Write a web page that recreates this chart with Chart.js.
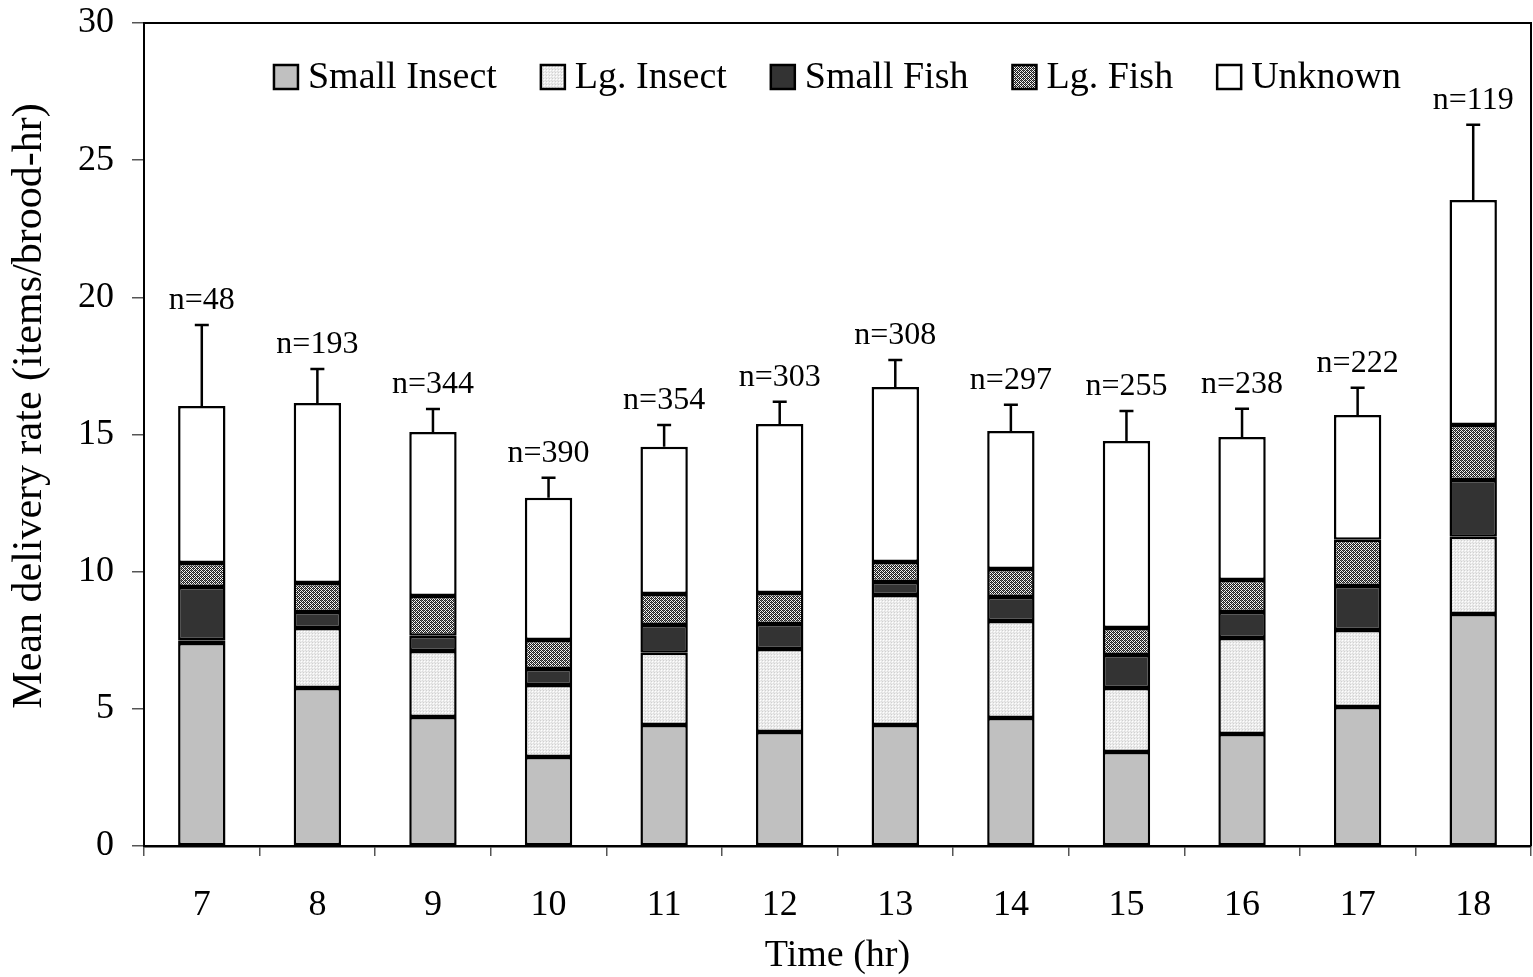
<!DOCTYPE html>
<html>
<head>
<meta charset="utf-8">
<script src="https://cdn.jsdelivr.net/npm/chart.js@4.4.1/dist/chart.umd.min.js"></script>
<style>
  html, body { margin: 0; padding: 0; background: #ffffff; }
  #wrap { width: 1533px; height: 977px; }
</style>
</head>
<body>
<div id="wrap"><canvas id="chart" width="1533" height="977"></canvas></div>
<script>
// Hour of day for each bar
const hours = ['7', '8', '9', '10', '11', '12', '13', '14', '15', '16', '17', '18'];

// Mean delivery rate per prey class (items/brood-hr), stacked bottom to top
const smallInsect = [7.40, 5.76, 4.70, 3.24, 4.41, 4.16, 4.41, 4.67, 3.43, 4.08, 5.07, 8.46];
const lgInsect    = [0.10, 2.19, 2.41, 2.63, 2.63, 3.02, 4.74, 3.53, 2.33, 3.50, 2.80, 2.81];
const smallFish   = [1.94, 0.58, 0.55, 0.58, 1.02, 0.91, 0.47, 0.88, 1.20, 0.95, 1.61, 2.07];
const lgFish      = [0.88, 1.06, 1.45, 1.06, 1.13, 1.13, 0.73, 1.02, 0.99, 1.17, 1.68, 2.01];
const unknown     = [5.72, 6.56, 5.98, 5.18, 5.36, 6.16, 6.38, 5.03, 6.81, 5.21, 4.55, 8.20];

// Upper error on the total rate, and number of deliveries observed
const totalErr = [2.95, 1.24, 0.84, 0.73, 0.80, 0.81, 0.99, 0.95, 1.10, 1.03, 0.99, 2.74];
const nObs     = [48, 193, 344, 390, 354, 303, 308, 297, 255, 238, 222, 119];

const yTicks = [0, 5, 10, 15, 20, 25, 30];

const FONT = '"Liberation Serif", "Times New Roman", serif';

// Fill patterns for the two "large" classes
function makePattern(size, painter) {
  const c = document.createElement('canvas');
  c.width = size; c.height = size;
  const g = c.getContext('2d');
  painter(g, size);
  return document.getElementById('chart').getContext('2d').createPattern(c, 'repeat');
}
const dottedLight = makePattern(3, (g, s) => {
  g.fillStyle = '#ececec'; g.fillRect(0, 0, s, s);
  g.fillStyle = '#d0d0d0'; g.fillRect(0, 0, 1, 1);
  g.fillStyle = '#ffffff'; g.fillRect(1, 1, 1, 1);
  g.fillStyle = '#dcdcdc'; g.fillRect(2, 2, 1, 1);
});
const hatchDark = makePattern(4, (g, s) => {
  g.fillStyle = '#f4f4f4'; g.fillRect(0, 0, s, s);
  g.fillStyle = '#1e1e1e';
  for (let x = 0; x < s; x++) {
    for (let y = 0; y < s; y++) {
      if ((x + y) % 2 === 0) g.fillRect(x, y, 1, 1);
    }
  }
  g.fillStyle = '#6a6a6a';
  g.fillRect(1, 0, 1, 1);
  g.fillRect(3, 2, 1, 1);
});

function seg(label, data, fill) {
  return {
    label, data,
    backgroundColor: fill,
    borderColor: '#000000',
    borderWidth: 2.5,
    borderSkipped: false,
    categoryPercentage: 1.0,
    barPercentage: 0.41
  };
}

// Frame around the plotting area (top and right edges)
const framePlugin = {
  id: 'frame',
  afterDraw(chart) {
    const a = chart.chartArea, ctx = chart.ctx;
    ctx.save();
    ctx.strokeStyle = '#000'; ctx.lineWidth = 2;
    ctx.beginPath();
    ctx.moveTo(a.left, a.top); ctx.lineTo(a.right, a.top); ctx.lineTo(a.right, a.bottom);
    ctx.stroke();
    ctx.restore();
  }
};

// Upper error bars on each stack plus the sample-size label above them
const errorPlugin = {
  id: 'errorBars',
  afterDatasetsDraw(chart) {
    const ctx = chart.ctx, xs = chart.scales.x, ys = chart.scales.y;
    ctx.save();
    ctx.strokeStyle = '#000'; ctx.lineWidth = 2.5;
    ctx.fillStyle = '#000';
    ctx.font = '32px ' + FONT;
    ctx.textAlign = 'center'; ctx.textBaseline = 'middle';
    hours.forEach((h, i) => {
      let total = 0;
      chart.data.datasets.forEach(ds => { total += ds.data[i]; });
      const x = xs.getPixelForValue(i);
      const y0 = ys.getPixelForValue(total);
      const y1 = ys.getPixelForValue(total + totalErr[i]);
      ctx.beginPath();
      ctx.moveTo(x, y0); ctx.lineTo(x, y1);
      ctx.moveTo(x - 7, y1); ctx.lineTo(x + 7, y1);
      ctx.stroke();
      ctx.fillText('n=' + nObs[i], x, y1 - 24);
    });
    ctx.restore();
  }
};

// Legend drawn inside the plot along the top
const legendPlugin = {
  id: 'innerLegend',
  afterDraw(chart) {
    const ctx = chart.ctx, a = chart.chartArea;
    const box = 24, gapText = 10, gapItem = 44, yc = 77;
    ctx.save();
    ctx.font = '38px ' + FONT;
    ctx.textBaseline = 'middle'; ctx.textAlign = 'left';
    const items = chart.data.datasets.map(ds => ({ label: ds.label, fill: ds.backgroundColor, w: ctx.measureText(ds.label).width }));
    let total = 0;
    items.forEach((it, k) => { total += box + gapText + it.w + (k < items.length - 1 ? gapItem : 0); });
    let x = (a.left + a.right) / 2 - total / 2;
    items.forEach(it => {
      ctx.fillStyle = it.fill;
      ctx.fillRect(x, yc - box / 2, box, box);
      ctx.strokeStyle = '#000'; ctx.lineWidth = 2.5;
      ctx.strokeRect(x, yc - box / 2, box, box);
      ctx.fillStyle = '#000';
      ctx.fillText(it.label, x + box + gapText, yc + 1);
      x += box + gapText + it.w + gapItem;
    });
    ctx.restore();
  }
};

// Axis titles
const titlePlugin = {
  id: 'axisTitles',
  afterDraw(chart) {
    const ctx = chart.ctx, a = chart.chartArea;
    ctx.save();
    ctx.fillStyle = '#000';
    ctx.font = '38px ' + FONT;
    ctx.textAlign = 'center'; ctx.textBaseline = 'middle';
    ctx.fillText('Time (hr)', (a.left + a.right) / 2, 956);
    ctx.font = '42px ' + FONT;
    ctx.translate(30, 406);
    ctx.rotate(-Math.PI / 2);
    ctx.fillText('Mean delivery rate (items/brood-hr)', 0, 0);
    ctx.restore();
  }
};

new Chart(document.getElementById('chart'), {
  type: 'bar',
  data: {
    labels: hours,
    datasets: [
      seg('Small Insect', smallInsect, '#c0c0c0'),
      seg('Lg. Insect', lgInsect, dottedLight),
      seg('Small Fish', smallFish, '#333333'),
      seg('Lg. Fish', lgFish, hatchDark),
      seg('Unknown', unknown, '#ffffff')
    ]
  },
  options: {
    responsive: false,
    animation: false,
    layout: { padding: { top: 23, right: 2, left: 0, bottom: 0 } },
    plugins: {
      legend: { display: false },
      tooltip: { enabled: false },
      title: { display: false }
    },
    scales: {
      x: {
        stacked: true,
        offset: true,
        grid: { display: true, drawOnChartArea: false, drawTicks: true, tickLength: 10, color: '#555', lineWidth: 1.5, offset: true },
        border: { display: true, color: '#000', width: 2.5 },
        ticks: { color: '#000', font: { family: FONT, size: 36 }, padding: 28, maxRotation: 0 },
        afterFit(scale) { scale.height = 131; scale.paddingLeft = 0; scale.paddingRight = 0; }
      },
      y: {
        stacked: true,
        min: 0, max: 30,
        afterBuildTicks(scale) { scale.ticks = yTicks.map(v => ({ value: v })); },
        grid: { display: true, drawOnChartArea: false, drawTicks: true, tickLength: 12, color: '#555', lineWidth: 1.5 },
        border: { display: true, color: '#000', width: 2 },
        ticks: { color: '#000', font: { family: FONT, size: 36 }, padding: 18 },
        afterFit(scale) { scale.width = 144; scale.paddingTop = 0; scale.paddingBottom = 0; }
      }
    }
  },
  plugins: [framePlugin, errorPlugin, legendPlugin, titlePlugin]
});
</script>
</body>
</html>
